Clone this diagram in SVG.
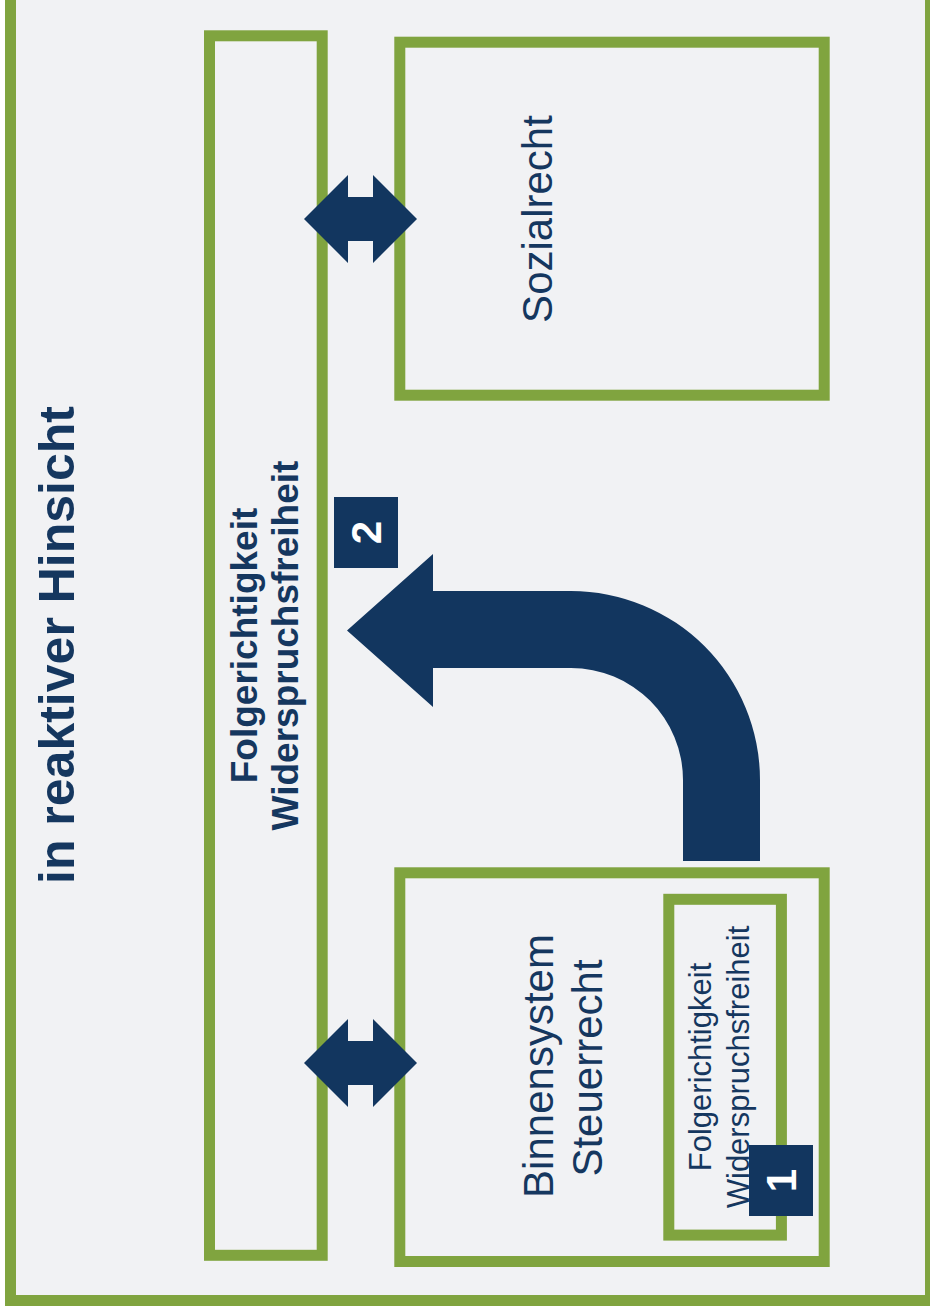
<svg xmlns="http://www.w3.org/2000/svg" width="930" height="1312" viewBox="0 0 930 1312">
  <style>
    .frame { fill: none; stroke: #80A43F; stroke-width: 11; }
    .navy { fill: #12365F; }
    .lbl { font-family: "Liberation Sans", Arial, sans-serif; fill: #15375F; text-anchor: middle; }
    .bold { font-weight: bold; }
    .num { font-family: "Liberation Sans", Arial, sans-serif; font-weight: bold; fill: #FFFFFF; text-anchor: middle; }
  </style>
  <rect x="0" y="0" width="930" height="1312" fill="#FFFFFF"/>

  <!-- outer panel -->
  <g id="panel">
    <rect x="10.5" y="-20" width="920" height="1320.5" fill="#F1F2F4" stroke="#80A43F" stroke-width="11"/>
    <text class="lbl bold" font-size="50" transform="translate(74,645) rotate(-90)">in reaktiver Hinsicht</text>
  </g>

  <!-- shared principle bar -->
  <g id="node-principles">
    <rect class="frame" x="209.5" y="35.8" width="112.7" height="1219.5"/>
    <text class="lbl bold" font-size="37" transform="translate(257,645.5) rotate(-90)">Folgerichtigkeit</text>
    <text class="lbl bold" font-size="37" transform="translate(298,645.5) rotate(-90)">Widerspruchsfreiheit</text>
  </g>

  <!-- Sozialrecht -->
  <g id="node-sozialrecht">
    <rect class="frame" x="399.8" y="42.2" width="424.4" height="353"/>
    <text class="lbl" font-size="42" transform="translate(552,219) rotate(-90)">Sozialrecht</text>
  </g>

  <!-- Steuerrecht inner system -->
  <g id="node-steuerrecht">
    <rect class="frame" x="399.8" y="872.8" width="424.4" height="388.7"/>
    <text class="lbl" font-size="42" transform="translate(553,1066) rotate(-90)">Binnensystem</text>
    <text class="lbl" font-size="42" transform="translate(602,1068) rotate(-90)">Steuerrecht</text>
  </g>

  <g id="node-inner-principles">
    <rect class="frame" x="668.8" y="899.3" width="112.6" height="335.8"/>
    <text class="lbl" font-size="31" transform="translate(711,1067) rotate(-90)">Folgerichtigkeit</text>
    <text class="lbl" font-size="31" transform="translate(749,1067) rotate(-90)">Widerspruchsfreiheit</text>
  </g>

  <!-- connectors -->
  <g id="connectors">
    <polygon class="navy" points="304,219 348,175 348,197 373,197 373,175 417,219 373,263 373,241 348,241 348,263"/>
    <polygon class="navy" points="304,1063 348,1019 348,1041 373,1041 373,1019 417,1063 373,1107 373,1085 348,1085 348,1107"/>
    <path class="navy" d="M 683 861 L 683 780 A 112 112 0 0 0 571 668 L 433 668 L 433 707 L 347 630.5 L 433 554 L 433 591 L 571 591 A 189 189 0 0 1 760 780 L 760 861 Z"/>
  </g>

  <!-- step badges -->
  <g id="badge-2">
    <rect class="navy" x="334" y="497" width="64" height="71"/>
    <text class="num" font-size="42" transform="translate(381,532.5) rotate(-90)">2</text>
  </g>
  <g id="badge-1">
    <rect class="navy" x="749" y="1145" width="64" height="71"/>
    <text class="num" font-size="42" transform="translate(796,1180.5) rotate(-90)">1</text>
  </g>
</svg>
